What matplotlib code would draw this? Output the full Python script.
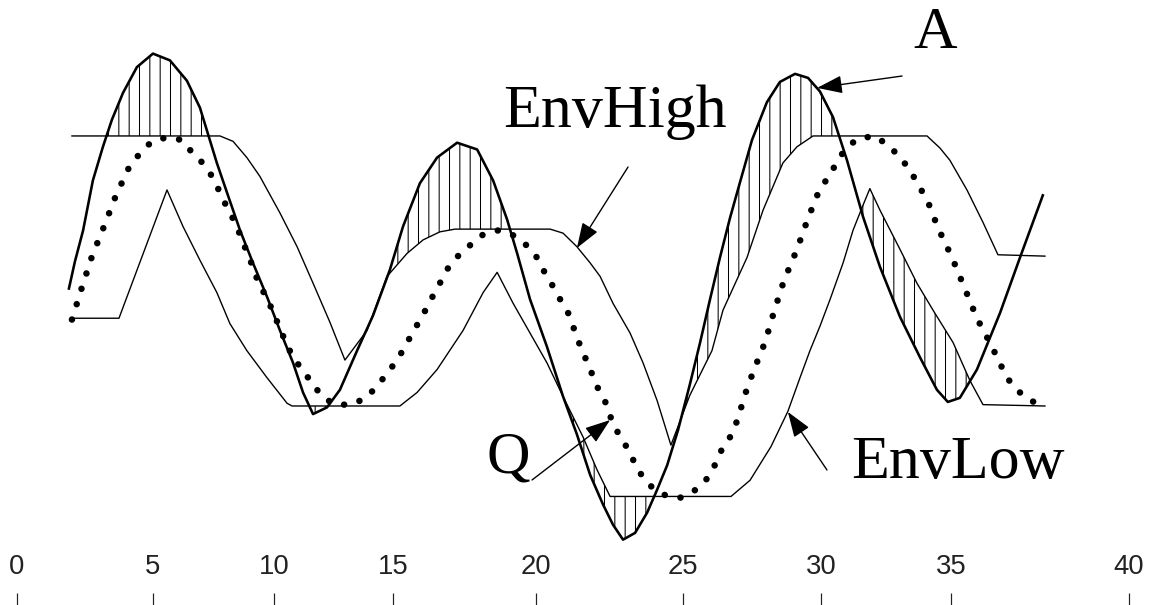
import numpy as np
import matplotlib
matplotlib.use("Agg")
import matplotlib.pyplot as plt

plt.rcParams["font.family"] = ["Liberation Sans", "DejaVu Sans"]
plt.rcParams["hatch.linewidth"] = 0.6

# ruler ticks, and where each one sits across the figure width
tick_vals = [0, 5, 10, 15, 20, 25, 30, 35, 40]
tick_frac = [0.0147, 0.1322, 0.2368, 0.3397, 0.4633, 0.5903, 0.7096, 0.8219, 0.9758]

# query series Q
q_x = [2.02, 2.39, 2.76, 3.20, 3.64, 4.15, 4.52, 4.96, 5.58, 6.20, 6.65, 7.11, 7.48,
       7.77, 8.06, 8.39, 8.64, 8.88, 9.13, 9.34, 9.67, 9.96, 10.21, 10.50, 10.80,
       11.18, 11.60, 12.02, 12.56, 13.24, 13.87, 14.29, 14.75, 15.14, 15.42, 15.70,
       16.01, 16.33, 16.64, 16.92, 17.27, 17.69, 18.15, 18.67, 19.16, 19.62, 20.00,
       20.24, 20.54, 20.82, 21.09, 21.26, 21.46, 21.67, 21.90, 22.11, 22.38, 22.55,
       22.79, 23.10, 23.33, 23.61, 23.98, 24.39, 24.90, 25.47, 25.91, 26.20, 26.41,
       26.74, 26.96, 27.14, 27.32, 27.54, 27.75, 27.97, 28.30, 28.66, 29.13, 29.53,
       29.96, 30.31, 30.62, 30.96, 31.42, 32.08, 32.58, 32.96, 33.42, 33.73, 34.08,
       34.50, 35.03, 35.39, 35.73, 36.15, 36.57, 36.85, 37.16, 37.58]
q_y = [-0.36, -0.12, 0.11, 0.33, 0.56, 0.78, 0.87, 0.96, 0.99, 0.97, 0.87, 0.79, 0.69,
       0.58, 0.47, 0.36, 0.25, 0.14, 0.03, -0.08, -0.19, -0.30, -0.41, -0.53, -0.64,
       -0.73, -0.83, -0.93, -0.99, -0.99, -0.94, -0.86, -0.76, -0.66, -0.56, -0.45,
       -0.34, -0.21, -0.09, 0.02, 0.11, 0.19, 0.27, 0.30, 0.27, 0.20, 0.11,
       0.01, -0.10, -0.21, -0.31, -0.41, -0.53, -0.64, -0.76, -0.87, -0.98, -1.09,
       -1.20, -1.31, -1.41, -1.52, -1.61, -1.66, -1.68, -1.62, -1.53, -1.42, -1.32,
       -1.22, -1.11, -0.99, -0.87, -0.75, -0.64, -0.53, -0.30, -0.07, 0.16, 0.39,
       0.61, 0.70, 0.81, 0.91, 0.98, 1.00, 0.93, 0.86, 0.75, 0.64, 0.53,
       0.32, 0.10, -0.13, -0.35, -0.56, -0.79, -0.88, -0.95, -1.00]

# candidate series A
a_x = [1.91, 2.13, 2.43, 2.79, 3.16, 3.49, 3.90, 4.41, 5.00, 5.70, 6.40, 6.94, 7.23,
       7.64, 8.06, 8.60, 9.13, 9.71, 10.25, 10.80, 11.22, 11.64, 12.23, 12.77, 13.49,
       14.16, 14.87, 15.35, 15.94, 16.54, 17.24, 17.94, 18.50, 18.99, 19.34, 19.79,
       20.37, 20.92, 21.39, 21.84, 22.28, 22.62, 22.96, 23.37, 23.78, 24.12, 24.46,
       24.83, 25.25, 25.62, 25.98, 26.34, 26.70, 27.07, 27.50, 28.04, 28.51, 29.06,
       29.53, 29.96, 30.46, 31.00, 31.62, 32.27, 33.04, 33.81, 34.46, 34.88, 35.25,
       35.73, 36.38, 36.94, 37.58]
a_y = [-0.13, 0.07, 0.30, 0.67, 0.92, 1.12, 1.32, 1.51, 1.61, 1.56, 1.41, 1.21, 1.04,
       0.80, 0.58, 0.30, 0.06, -0.19, -0.44, -0.68, -0.90, -1.06, -1.01, -0.88, -0.59,
       -0.33, 0.01, 0.33, 0.65, 0.84, 0.95, 0.90, 0.67, 0.38, 0.13, -0.21,
       -0.56, -0.93, -1.21, -1.51, -1.73, -1.88, -1.99, -1.94, -1.79, -1.62, -1.44,
       -1.18, -0.84, -0.53, -0.21, 0.10, 0.39, 0.66, 0.97, 1.25, 1.40, 1.46,
       1.43, 1.33, 1.14, 0.82, 0.40, 0.03, -0.34, -0.64, -0.88, -0.97, -0.94,
       -0.73, -0.31, 0.10, 0.56]

# upper envelope of Q
hi_x = [2.02, 7.77, 8.31, 8.88, 9.42, 10.25, 10.97, 11.64, 12.35, 12.98, 13.91, 14.75,
        15.49, 16.05, 16.64, 17.17, 20.48, 20.92, 21.39, 21.84, 22.18, 22.62, 23.20,
        23.64, 24.12, 24.59, 25.25, 26.05, 26.45, 27.32, 27.90, 28.62, 29.13, 29.71,
        34.08, 34.58, 34.96, 35.45, 35.90, 36.32, 37.64]
hi_y = [1.00, 1.00, 0.96, 0.84, 0.70, 0.43, 0.18, -0.09, -0.38, -0.66, -0.44, -0.04,
        0.13, 0.23, 0.29, 0.31, 0.31, 0.28, 0.18, 0.06, -0.04, -0.24, -0.46,
        -0.68, -0.96, -1.29, -0.92, -0.59, -0.29, 0.10, 0.45, 0.80, 0.92, 1.00,
        1.00, 0.91, 0.82, 0.60, 0.36, 0.12, 0.11]

# lower envelope of Q
lo_x = [2.02, 3.75, 5.58, 6.24, 6.94, 7.64, 8.18, 8.88, 9.71, 10.55, 10.76, 15.24,
        15.84, 16.54, 17.45, 18.15, 18.64, 19.20, 19.79, 20.37, 20.92, 21.60, 22.07,
        22.52, 26.74, 27.43, 28.19, 28.80, 29.24, 29.60, 29.96, 30.35, 30.85, 31.23,
        31.58, 31.88, 32.27, 33.04, 33.69, 34.31, 35.06, 35.53, 35.90, 37.64]
lo_y = [-0.35, -0.35, 0.60, 0.33, 0.08, -0.16, -0.39, -0.59, -0.79, -0.98, -1.00, -1.00,
        -0.90, -0.73, -0.44, -0.16, -0.01, -0.24, -0.46, -0.68, -0.93, -1.23, -1.47,
        -1.67, -1.67, -1.55, -1.30, -1.04, -0.79, -0.59, -0.41, -0.21, 0.06, 0.30,
        0.47, 0.61, 0.45, 0.16, -0.09, -0.29, -0.53, -0.81, -0.99, -1.00]


def to_frac(v):
    v = np.asarray(v, dtype=float)
    out = np.interp(v, tick_vals, tick_frac)
    s0 = (tick_frac[1] - tick_frac[0]) / (tick_vals[1] - tick_vals[0])
    s1 = (tick_frac[-1] - tick_frac[-2]) / (tick_vals[-1] - tick_vals[-2])
    out = np.where(v < tick_vals[0], tick_frac[0] + (v - tick_vals[0]) * s0, out)
    out = np.where(v > tick_vals[-1], tick_frac[-1] + (v - tick_vals[-1]) * s1, out)
    return out


def from_frac(f):
    f = np.asarray(f, dtype=float)
    out = np.interp(f, tick_frac, tick_vals)
    s0 = (tick_vals[1] - tick_vals[0]) / (tick_frac[1] - tick_frac[0])
    s1 = (tick_vals[-1] - tick_vals[-2]) / (tick_frac[-1] - tick_frac[-2])
    out = np.where(f < tick_frac[0], tick_vals[0] + (f - tick_frac[0]) * s0, out)
    out = np.where(f > tick_frac[-1], tick_vals[-1] + (f - tick_frac[-1]) * s1, out)
    return out


dpi = 124
fig = plt.figure(figsize=(1157 / dpi, 605 / dpi), dpi=dpi)
ax = fig.add_axes([0, 0, 1, 1])
ax.set_xscale("function", functions=(to_frac, from_frac))
ax.set_xlim(float(from_frac(0.0)), float(from_frac(1.0)))
ax.set_ylim(-2.474, 2.007)
ax.axis("off")

# hatched areas where A leaves the envelope (the tail after the last trough is left open)
xf = np.linspace(max(a_x[0], hi_x[0]), min(a_x[-1], hi_x[-1]), 4000)
af = np.interp(xf, a_x, a_y)
hf = np.interp(xf, hi_x, hi_y)
lf = np.interp(xf, lo_x, lo_y)
ax.fill_between(xf, hf, af, where=(af > hf) & (xf < 36.5), interpolate=True,
                facecolor="none", edgecolor="black", hatch="||", linewidth=0)
ax.fill_between(xf, lf, af, where=af < lf, interpolate=True, facecolor="none",
                edgecolor="black", hatch="||", linewidth=0)

ax.plot(hi_x, hi_y, color="black", lw=0.8)
ax.plot(lo_x, lo_y, color="black", lw=0.8)
ax.plot(a_x, a_y, color="black", lw=1.5)
ax.plot(q_x, q_y, color="black", lw=3.8, linestyle=(0, (0.01, 2.45)),
        dash_capstyle="round")

arrow = dict(arrowstyle="-|>,head_length=0.9,head_width=0.32", color="black",
             lw=0.8, shrinkA=0, shrinkB=0, mutation_scale=14)
ax.annotate("", xy=(29.86, 1.356), xytext=(33.12, 1.444), arrowprops=arrow)
ax.annotate("", xy=(21.39, 0.170), xytext=(23.13, 0.770), arrowprops=arrow)
ax.annotate("", xy=(22.52, -1.104), xytext=(19.86, -1.548), arrowprops=arrow)
ax.annotate("", xy=(28.80, -1.044), xytext=(30.23, -1.474), arrowprops=arrow)

serif = ["Liberation Serif", "DejaVu Serif"]
ax.text(34.38, 1.652, "A", family=serif, fontsize=35, ha="center", va="baseline")
ax.text(22.69, 1.067, "EnvHigh", family=serif, fontsize=36, ha="center", va="baseline")
ax.text(19.02, -1.489, "Q", family=serif, fontsize=35, ha="center", va="baseline")
ax.text(35.20, -1.533, "EnvLow", family=serif, fontsize=36, ha="center", va="baseline")

# ruler along the bottom: ticks hang down, numbers above
ruler = fig.add_axes([0, 0, 1, 12 / 605], sharex=ax)
ruler.patch.set_alpha(0)
for s in ruler.spines.values():
    s.set_visible(False)
ruler.set_yticks([])
ruler.set_xticks(tick_vals)
ruler.set_xticklabels([str(v) for v in tick_vals])
ruler.tick_params(axis="x", which="both", direction="in", length=7, width=0.7,
                  color="#222222", pad=7.5, labelsize=16, labelcolor="#222222",
                  top=True, bottom=False, labeltop=True, labelbottom=False)
ruler.minorticks_off()

fig.savefig("out.png", dpi=dpi)
